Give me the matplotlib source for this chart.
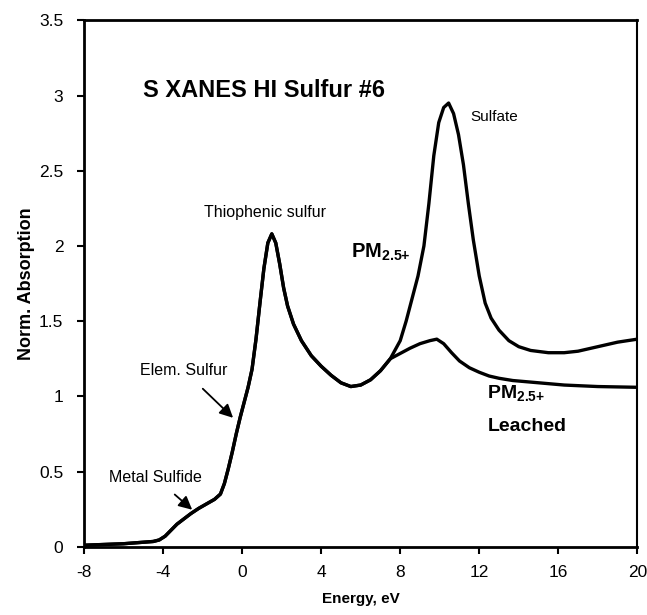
import matplotlib
matplotlib.use("Agg")
import matplotlib.pyplot as plt

plt.rcParams["font.family"] = ["Liberation Sans", "DejaVu Sans"]
plt.rcParams["mathtext.fontset"] = "custom"
plt.rcParams["mathtext.rm"] = "Liberation Sans"
plt.rcParams["mathtext.bf"] = "Liberation Sans:bold"

# ── data ─────────────────────────────────────────────────────
# PM2.5+ (full spectrum)
pm_energy = [-8, -7, -6, -5, -4.5, -4.2, -3.9, -3.6, -3.3, -3.0, -2.6, -2.2, -1.8,
             -1.4, -1.1, -0.9, -0.7, -0.5, -0.3, -0.1, 0.1, 0.3, 0.5, 0.7, 0.9,
             1.1, 1.3, 1.5, 1.7, 1.9, 2.1, 2.3, 2.6, 3.0, 3.5, 4.0, 4.5, 5.0, 5.5,
             6.0, 6.5, 7.0, 7.5, 8.0, 8.3, 8.6, 8.9, 9.2, 9.45, 9.7, 9.95, 10.2,
             10.45, 10.7, 10.95, 11.2, 11.45, 11.7, 12.0, 12.3, 12.6, 13.0, 13.5,
             14.0, 14.6, 15.5, 16.3, 17.0, 18.0, 19.0, 20.0]
pm_abs = [0.01, 0.015, 0.02, 0.03, 0.035, 0.045, 0.07, 0.11, 0.15, 0.18, 0.22,
          0.255, 0.285, 0.315, 0.35, 0.42, 0.52, 0.63, 0.75, 0.86, 0.96, 1.06,
          1.18, 1.38, 1.62, 1.85, 2.02, 2.08, 2.02, 1.88, 1.72, 1.60, 1.48, 1.37,
          1.27, 1.20, 1.14, 1.09, 1.065, 1.075, 1.11, 1.17, 1.25, 1.37, 1.50,
          1.65, 1.80, 2.00, 2.28, 2.60, 2.82, 2.92, 2.95, 2.88, 2.74, 2.54, 2.28,
          2.04, 1.80, 1.62, 1.52, 1.44, 1.37, 1.33, 1.305, 1.29, 1.29, 1.30,
          1.33, 1.36, 1.38]

# PM2.5+ leached
leach_energy = [-8, -7, -6, -5, -4.5, -4.2, -3.9, -3.6, -3.3, -3.0, -2.6, -2.2, -1.8,
                -1.4, -1.1, -0.9, -0.7, -0.5, -0.3, -0.1, 0.1, 0.3, 0.5, 0.7, 0.9,
                1.1, 1.3, 1.5, 1.7, 1.9, 2.1, 2.3, 2.6, 3.0, 3.5, 4.0, 4.5, 5.0, 5.5,
                6.0, 6.5, 7.0, 7.5, 8.0, 8.5, 9.0, 9.5, 9.85, 10.2, 10.6, 11.0,
                11.5, 12.0, 12.5, 13.0, 13.7, 15.0, 16.3, 18.0, 20.0]
leach_abs = [0.01, 0.015, 0.02, 0.03, 0.035, 0.045, 0.07, 0.11, 0.15, 0.18, 0.22,
             0.255, 0.285, 0.315, 0.35, 0.42, 0.52, 0.63, 0.75, 0.86, 0.96, 1.06,
             1.18, 1.38, 1.62, 1.85, 2.02, 2.08, 2.02, 1.88, 1.72, 1.60, 1.48, 1.37,
             1.27, 1.20, 1.14, 1.09, 1.065, 1.075, 1.11, 1.17, 1.25, 1.285, 1.32,
             1.35, 1.37, 1.38, 1.35, 1.29, 1.235, 1.19, 1.16, 1.135, 1.12, 1.105,
             1.09, 1.075, 1.065, 1.06]

x_ticks = [-8, -4, 0, 4, 8, 12, 16, 20]
y_ticks = [0, 0.5, 1, 1.5, 2, 2.5, 3, 3.5]
y_tick_labels = ["0", "0.5", "1", "1.5", "2", "2.5", "3", "3.5"]

# ── plot ─────────────────────────────────────────────────────
fig = plt.figure(figsize=(6.47, 6.15), dpi=100)
ax = fig.add_axes([0.130, 0.111, 0.855, 0.856])

ax.plot(pm_energy, pm_abs, color="black", linewidth=2.4,
        solid_capstyle="round", solid_joinstyle="round")
ax.plot(leach_energy, leach_abs, color="black", linewidth=2.4,
        solid_capstyle="round", solid_joinstyle="round")

ax.set_xlim(-8, 20)
ax.set_ylim(0, 3.5)
ax.set_xticks(x_ticks)
ax.set_xticklabels([str(t) for t in x_ticks])
ax.set_yticks(y_ticks)
ax.set_yticklabels(y_tick_labels)
ax.tick_params(direction="out", length=5, width=1.5, labelsize=12.5)
ax.tick_params(axis="x", pad=8)
ax.tick_params(axis="y", pad=10)
for side in ["left", "bottom", "top"]:
    ax.spines[side].set_linewidth(2)
ax.spines["right"].set_linewidth(1.5)

ax.set_xlabel("Energy, eV", fontsize=11, fontweight="bold", labelpad=9)
ax.set_ylabel("Norm. Absorption", fontsize=13, fontweight="bold", labelpad=3)

# annotations
ax.text(-5.0, 3.035, "S XANES HI Sulfur #6", fontsize=17, fontweight="bold",
        ha="left", va="center")
ax.text(1.16, 2.22, "Thiophenic sulfur", fontsize=11.5, ha="center", va="center")
ax.text(11.54, 2.855, "Sulfate", fontsize=11, ha="left", va="center")
ax.text(5.52, 1.96, r"$\mathbf{PM_{2.5{+}}}$", fontsize=14.5, ha="left", va="center")
ax.text(12.41, 1.02, r"$\mathbf{PM_{2.5{+}}}$", fontsize=14, ha="left", va="center")
ax.text(12.41, 0.80, "Leached", fontsize=14, fontweight="bold", ha="left", va="center")

ax.annotate("Elem. Sulfur", xy=(-0.46, 0.857), xytext=(-2.94, 1.17),
            fontsize=11.5, ha="center", va="center",
            arrowprops=dict(arrowstyle="-|>", color="black", lw=1.3,
                            mutation_scale=20, shrinkA=8, shrinkB=0))
ax.annotate("Metal Sulfide", xy=(-2.53, 0.246), xytext=(-4.38, 0.458),
            fontsize=11.5, ha="center", va="center",
            arrowprops=dict(arrowstyle="-|>", color="black", lw=1.3,
                            mutation_scale=20, shrinkA=7, shrinkB=0))

plt.savefig("out.png", dpi=100)
plt.close()
